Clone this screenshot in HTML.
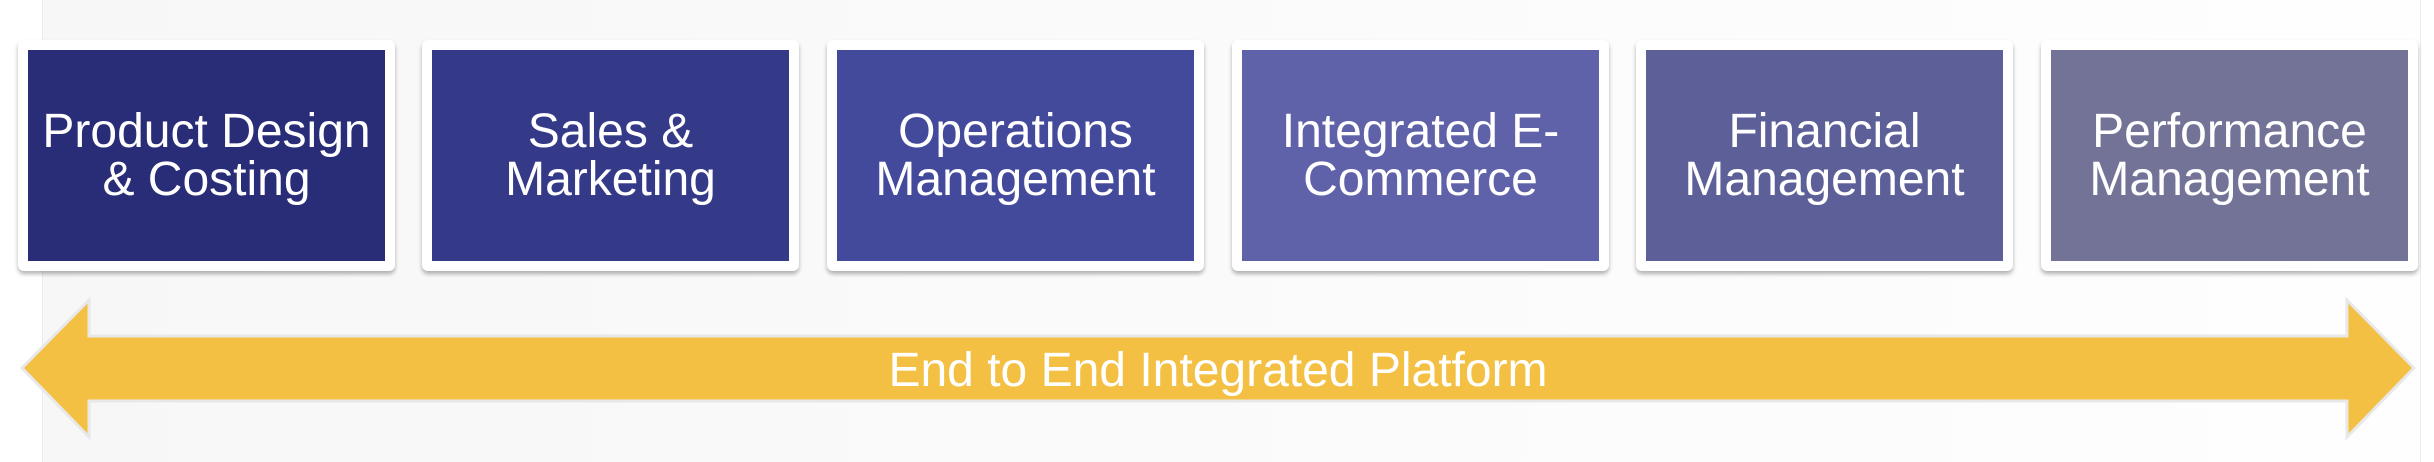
<!DOCTYPE html>
<html><head><style>
html,body{margin:0;padding:0}
body{width:2434px;height:462px;position:relative;overflow:hidden;background:#fff;font-family:"Liberation Sans",Arial,sans-serif}
.bg{position:absolute;left:42px;top:0;width:2377px;height:462px;background:linear-gradient(90deg,#f7f7f7,#fefefe);border-left:1px solid #ececec;border-right:1px solid #ececec}
.box{position:absolute;top:40px;width:377px;height:231px;background:#fff;border-radius:6px;box-shadow:0 3px 4px rgba(0,0,0,0.3)}
.in{position:absolute;left:10px;top:10px;right:10px;bottom:10px;display:flex;align-items:center;justify-content:center;text-align:center;color:#fff;font-size:48px;line-height:48px}
svg{position:absolute;left:0;top:0}
</style></head><body>
<div class="bg"></div>
<div class="box" style="left:18px"><div class="in" style="background:#292c77">Product Design<br>&amp; Costing</div></div>
<div class="box" style="left:422px"><div class="in" style="background:#353a88">Sales &amp;<br>Marketing</div></div>
<div class="box" style="left:827px"><div class="in" style="background:#444a9b">Operations<br>Management</div></div>
<div class="box" style="left:1232px"><div class="in" style="background:#5f62a8">Integrated E-<br>Commerce</div></div>
<div class="box" style="left:1636px"><div class="in" style="background:#5d5f98">Financial<br>Management</div></div>
<div class="box" style="left:2041px"><div class="in" style="background:#727397">Performance<br>Management</div></div>
<svg width="2434" height="462">
<polygon points="22,368 89,300 89,336 2347,336 2347,300 2414,368 2347,437 2347,401 89,401 89,437" fill="#f4c043" stroke="#e8e8e8" stroke-width="3"/>
<text x="1218" y="386" text-anchor="middle" fill="#fff" font-family="Liberation Sans, Arial, sans-serif" font-size="48">End to End Integrated Platform</text>
</svg>
</body></html>
